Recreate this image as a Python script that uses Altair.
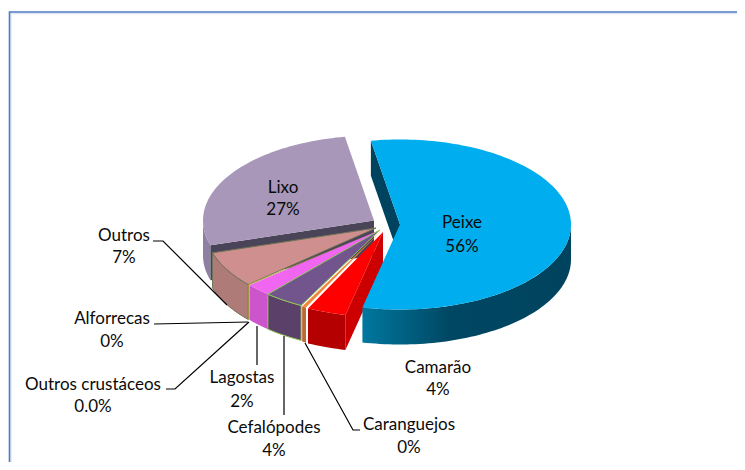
import math
import altair as alt

# ---- data ----
categories = ["Peixe", "Camarão", "Caranguejos", "Cefalópodes", "Lagostas",
              "Outros crustáceos", "Alforrecas", "Outros", "Lixo"]
shares = [56.25, 3.7, 0.4, 3.75, 2.4, 0.05, 0.15, 6.3, 27.0]
value_labels = ["56%", "4%", "0%", "4%", "2%", "0.0%", "0%", "7%", "27%"]

# ---- layout and style ----
OFF = 8
RX, RY, DEPTH = 171, 85, 35
START = 350.2
centers = {"Peixe": (400, 224.5), "Camarão": (383, 232), "Caranguejos": (381, 231),
           "Cefalópodes": (380, 230), "Lagostas": (380, 230), "Outros crustáceos": (380, 230),
           "Alforrecas": (380, 230), "Outros": (376, 228), "Lixo": (374, 220.5)}
top_col = {"Peixe": "#00aeef", "Camarão": "#ff0000", "Caranguejos": "#f0883c",
           "Cefalópodes": "#72558c", "Lagostas": "#f066f0", "Outros crustáceos": "#8ab04a",
           "Alforrecas": "#b8a828", "Outros": "#cf8f8e", "Lixo": "#a897b9"}
wall_col = {"Camarão": "#b40000", "Caranguejos": "#bd6a2e", "Cefalópodes": "#5b4169",
            "Lagostas": "#cc55cc", "Outros crustáceos": "#8ab04a", "Alforrecas": "#a89a20",
            "Outros": "#ae7b79", "Lixo": "#8f80a3"}
edge_col = {"Cefalópodes": "#8fc45c", "Outros": "#6f7458"}
overlap = {"Outros": 2.0}
label_xy = {"Peixe": (462, 223, 247), "Camarão": (438, 368, 390), "Caranguejos": (409, 425, 448),
            "Cefalópodes": (274, 428, 451), "Lagostas": (242, 378, 402),
            "Outros crustáceos": (93, 385, 407), "Alforrecas": (112, 319, 342),
            "Outros": (124, 236, 258), "Lixo": (283, 188, 210)}
leaders = [[(153, 241), (163, 241), (227, 305)],
           [(154, 324), (248, 322)],
           [(166, 389), (175, 389), (249, 322)],
           [(257, 326), (257, 365)],
           [(284, 336), (284, 415)],
           [(305, 343), (353, 430), (360, 430)]]
frame = [(9.5, 470), (9.5, 12), (745, 12)]
frame_glow = [(11, 470), (11, 13.7), (745, 13.7)]


def pt(c, deg, dz=0):
    a = math.radians(deg)
    return (c[0] + RX * math.sin(a) - OFF, c[1] - RY * math.cos(a) + dz - OFF)


def arc(c, a0, a1, dz=0):
    n = max(2, int(abs(a1 - a0) / 1.5) + 1)
    return [pt(c, a0 + (a1 - a0) * i / n, dz) for i in range(n + 1)]


def poly(points, fill, stroke="none", sw=0):
    pts = [list(p) for p in points] + [list(points[0])]
    return {"type": "Feature", "geometry": {"type": "Polygon", "coordinates": [pts]},
            "properties": {"fill": fill, "stroke": stroke, "sw": sw}}


def line(points):
    pts = [[x - OFF, y - OFF] for x, y in points]
    return {"type": "Feature", "geometry": {"type": "LineString", "coordinates": pts},
            "properties": {}}


total = sum(shares)
angles = {}
a = START
for name, s in zip(categories, shares):
    b = a - 360 + 360 * s / total if name == "Peixe" else a + 360 * s / total
    a0 = a - 360 if name == "Peixe" else a
    angles[name] = (a0 - overlap.get(name, 0), b)
    a = b

proj = dict(type="identity", scale=1, translate=[0, 0])
W, H = 729, 454


def solid(features):
    return (alt.Chart(alt.Data(values=features))
            .mark_geoshape()
            .encode(fill=alt.Fill("properties.fill:N", scale=None),
                    stroke=alt.Stroke("properties.stroke:N", scale=None),
                    strokeWidth=alt.StrokeWidth("properties.sw:Q", scale=None))
            .project(**proj))


def cut_face(name, ang, col):
    c = centers[name]
    tip = (c[0] - OFF, c[1] - OFF)
    tipd = (c[0] - OFF, c[1] - OFF + DEPTH)
    return poly([tip, pt(c, ang), pt(c, ang, DEPTH), tipd], col)


def wall(name, col, lo=90, hi=270, sw=0, stroke="none"):
    c = centers[name]
    a0, a1 = angles[name]
    a0, a1 = max(a0, lo), min(a1, hi)
    return poly(arc(c, a0, a1) + arc(c, a1, a0, DEPTH), col, stroke, sw)


def top(name):
    c = centers[name]
    a0, a1 = angles[name]
    e = edge_col.get(name)
    tip = (c[0] - OFF, c[1] - OFF)
    return poly([tip] + arc(c, a0, a1), top_col[name], e or "none", 1 if e else 0)


# back to front
back = []
back.append(wall("Lixo", wall_col["Lixo"]))
back.append(cut_face("Lixo", angles["Lixo"][0], "#4a4458"))
back.append(top("Lixo"))
back.append(cut_face("Peixe", angles["Peixe"][0], "#00435f"))
for name in ["Outros", "Alforrecas", "Outros crustáceos", "Lagostas", "Cefalópodes", "Caranguejos"]:
    e = edge_col.get(name)
    back.append(wall(name, wall_col[name], stroke=e or "none", sw=1 if e else 0))
    back.append(top(name))
back.append(cut_face("Camarão", angles["Camarão"][0], "#cc0000"))
back.append(wall("Camarão", wall_col["Camarão"]))
back.append(top("Camarão"))

peixe_wall = [wall("Peixe", "#004460")]
gradient = alt.LinearGradient(gradient="linear", x1=0, x2=1, y1=0, y2=0,
                              stops=[alt.GradientStop(color="#00789f", offset=0),
                                     alt.GradientStop(color="#004763", offset=0.42),
                                     alt.GradientStop(color="#00435f", offset=1)])
wall_layer = (alt.Chart(alt.Data(values=peixe_wall)).mark_geoshape(fill=gradient, strokeWidth=0)
              .project(**proj))
top_layer = solid([top("Peixe")])

lines_layer = (alt.Chart(alt.Data(values=[line(l) for l in leaders]))
               .mark_geoshape(filled=False, stroke="#000000", strokeWidth=1.2)
               .project(**proj))
glow_layer = (alt.Chart(alt.Data(values=[line(frame_glow)]))
              .mark_geoshape(filled=False, stroke="#dde5f2", strokeWidth=1.2)
              .project(**proj))
frame_layer = (alt.Chart(alt.Data(values=[line(frame)]))
               .mark_geoshape(filled=False, stroke="#4a7cc4", strokeWidth=1.6)
               .project(**proj))

rows = []
for name, v in zip(categories, value_labels):
    x, y1, y2 = label_xy[name]
    rows.append({"t": name, "x": x - OFF, "y": y1 - OFF})
    rows.append({"t": v, "x": x - OFF, "y": y2 - OFF})

text_layer = (alt.Chart(alt.Data(values=rows))
              .mark_text(font="Lato", fontSize=17, color="#0a0a0a", baseline="middle", align="center")
              .encode(longitude="x:Q", latitude="y:Q", text="t:N")
              .project(**proj))

chart = (alt.layer(glow_layer, frame_layer, solid(back), wall_layer, top_layer, lines_layer, text_layer)
         .properties(width=W, height=H, padding=0, autosize=alt.AutoSizeParams(type="none"),
                     background="white")
         .configure_view(strokeWidth=0))

chart.save("out.html", embed_options={"renderer": "svg", "actions": False})
